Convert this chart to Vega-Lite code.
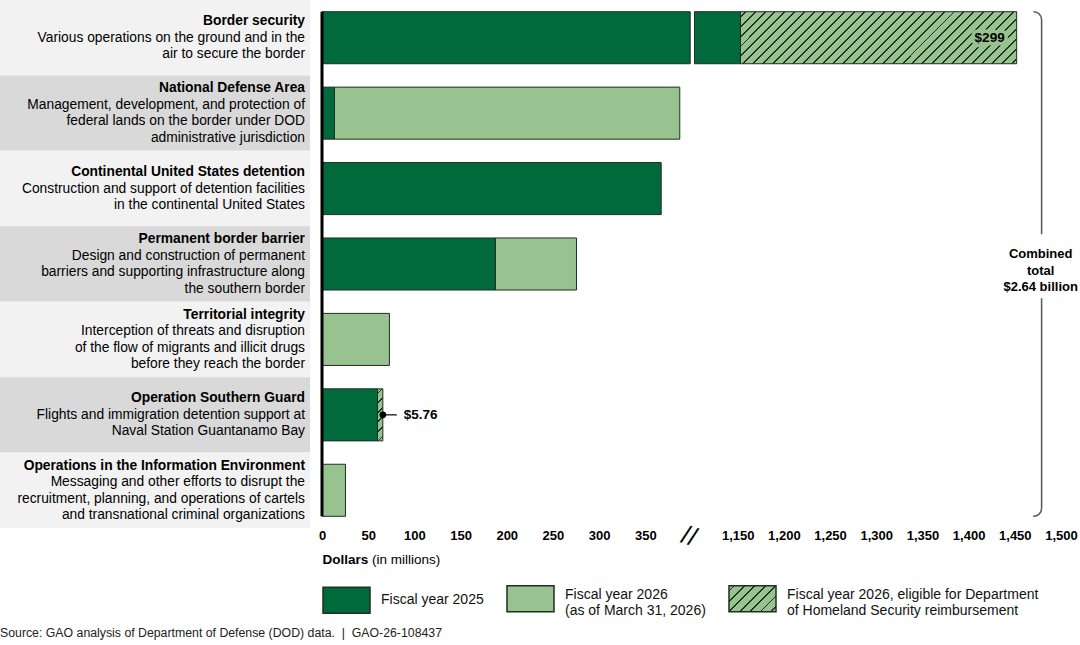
{
  "$schema": "https://vega.github.io/schema/vega-lite/v6.json",
  "padding": 0,
  "background": "white",
  "config": {"view": {"stroke": null}, "font": "Liberation Sans"},
  "title": {"text": "Source: GAO analysis of Department of Defense (DOD) data. \u00a0|\u00a0 GAO-26-108437", "orient": "bottom", "anchor": "start", "fontSize": 12.3, "fontWeight": "normal", "color": "#222", "offset": 9},
  "resolve": {"legend": {"fill": "independent"}},
  "datasets": {
    "cats": [
      {"row": 1, "cat": "Border security", "desc": ["Various operations on the ground and in the", "air to secure the border"]},
      {"row": 2, "cat": "National Defense Area", "desc": ["Management, development, and protection of", "federal lands on the border under DOD", "administrative jurisdiction"]},
      {"row": 3, "cat": "Continental United States detention", "desc": ["Construction and support of detention facilities", "in the continental United States"]},
      {"row": 4, "cat": "Permanent border barrier", "desc": ["Design and construction of permanent", "barriers and supporting infrastructure along", "the southern border"]},
      {"row": 5, "cat": "Territorial integrity", "desc": ["Interception of threats and disruption", "of the flow of migrants and illicit drugs", "before they reach the border"]},
      {"row": 6, "cat": "Operation Southern Guard", "desc": ["Flights and immigration detention support at", "Naval Station Guantanamo Bay"]},
      {"row": 7, "cat": "Operations in the Information Environment", "desc": ["Messaging and other efforts to disrupt the", "recruitment, planning, and operations of cartels", "and transnational criminal organizations"]}
    ],
    "bars": [
      {"cat": "Border security", "series": "FY2025", "value": 1153},
      {"cat": "Border security", "series": "FY2026DHS", "value": 299},
      {"cat": "National Defense Area", "series": "FY2025", "value": 13.5},
      {"cat": "National Defense Area", "series": "FY2026", "value": 373.8},
      {"cat": "Continental United States detention", "series": "FY2025", "value": 367.2},
      {"cat": "Permanent border barrier", "series": "FY2025", "value": 187.8},
      {"cat": "Permanent border barrier", "series": "FY2026", "value": 87.7},
      {"cat": "Territorial integrity", "series": "FY2026", "value": 73},
      {"cat": "Operation Southern Guard", "series": "FY2025", "value": 60.1},
      {"cat": "Operation Southern Guard", "series": "FY2026DHS", "value": 5.76},
      {"cat": "Operations in the Information Environment", "series": "FY2026", "value": 25.4}
    ]
  },
  "hconcat": [
    {
      "width": 310,
      "height": 528,
      "data": {"name": "cats"},
      "transform": [
        {"calculate": "length(datum.desc) == 3 ? [datum.cat, '', '', ''] : [datum.cat, '', '']", "as": "tl"},
        {"calculate": "length(datum.desc) == 3 ? ['', datum.desc[0], datum.desc[1], datum.desc[2]] : ['', datum.desc[0], datum.desc[1]]", "as": "dl"}
      ],
      "encoding": {
        "y": {"field": "cat", "type": "nominal", "scale": {"domain": ["Border security", "National Defense Area", "Continental United States detention", "Permanent border barrier", "Territorial integrity", "Operation Southern Guard", "Operations in the Information Environment"], "paddingInner": 0, "paddingOuter": 0}, "axis": null}
      },
      "layer": [
        {
          "mark": {"type": "rect"},
          "encoding": {
            "x": {"datum": 0, "type": "quantitative", "scale": {"domain": [0, 1]}, "axis": null},
            "x2": {"datum": 1},
            "fill": {"condition": {"test": "datum.row % 2 == 0", "value": "#d9d9d9"}, "value": "#f2f2f2"}
          }
        },
        {
          "mark": {"type": "text", "align": "right", "baseline": "middle", "dx": -5, "dy": {"expr": "length(datum.desc) == 3 ? -24.75 : -16.5"}, "fontSize": 13.8, "fontWeight": "bold", "lineHeight": 16.5, "color": "#000"},
          "encoding": {"x": {"datum": 1, "type": "quantitative"}, "text": {"field": "tl"}}
        },
        {
          "mark": {"type": "text", "align": "right", "baseline": "middle", "dx": -5, "dy": {"expr": "length(datum.desc) == 3 ? -24.75 : -16.5"}, "fontSize": 13.8, "fontWeight": "normal", "lineHeight": 16.5, "color": "#000"},
          "encoding": {"x": {"datum": 1, "type": "quantitative"}, "text": {"field": "dl"}}
        }
      ]
    },
    {
      "width": 739,
      "height": 528,
      "data": {"name": "bars"},
      "transform": [
        {"stack": "value", "groupby": ["cat"], "sort": [{"field": "series", "order": "ascending"}], "as": ["v0", "v1"]},
        {"calculate": "datum.v0 > 1100 ? datum.v0 - 700 : datum.v0", "as": "x0"},
        {"calculate": "datum.v1 > 1100 ? datum.v1 - 700 : datum.v1", "as": "x1"}
      ],
      "layer": [
        {
          "transform": [
            {"filter": "datum.series != 'FY2026DHS' && datum.v0 < 400"},
            {"calculate": "min(datum.x1, 398.6)", "as": "xe"}
          ],
          "mark": {"type": "bar", "stroke": "#1f2f22", "strokeWidth": 1},
          "encoding": {
            "x": {"field": "x0", "type": "quantitative", "scale": {"domain": [0, 800], "nice": false, "zero": true},
              "axis": {"values": [0, 50, 100, 150, 200, 250, 300, 350, 450, 500, 550, 600, 650, 700, 750, 800], "labelExpr": "datum.value > 400 ? format(datum.value + 700, ',') : format(datum.value, ',')", "labelFontWeight": "bold", "labelFontSize": 13, "labelColor": "#000", "ticks": false, "tickSize": 0, "domain": false, "grid": false, "labelPadding": 1, "labelFlush": false, "labelOverlap": false, "title": "Dollars", "titleFontWeight": "bold", "titleFontSize": 13.5, "titleColor": "#000", "titleAnchor": "start", "titlePadding": 10.5}},
            "x2": {"field": "xe"},
            "y": {"field": "cat", "type": "nominal", "scale": {"domain": ["Border security", "National Defense Area", "Continental United States detention", "Permanent border barrier", "Territorial integrity", "Operation Southern Guard", "Operations in the Information Environment"], "paddingInner": 0.31, "paddingOuter": 0.155}, "axis": null},
            "fill": {"field": "series", "type": "nominal",
              "scale": {"domain": ["FY2025", "FY2026", "FY2026DHS"], "range": ["#006a3d", "#98c28f",
                {"expr": "{gradient: 'linear', x1: 0, y1: 0, x2: 1.189, y2: 0.658, stops: [{offset: 0, color: '#98c28f'}, {offset: 0.0594, color: '#98c28f'}, {offset: 0.0594, color: '#1f2f22'}, {offset: 0.0834, color: '#1f2f22'}, {offset: 0.0834, color: '#98c28f'}, {offset: 0.2023, color: '#98c28f'}, {offset: 0.2023, color: '#1f2f22'}, {offset: 0.2263, color: '#1f2f22'}, {offset: 0.2263, color: '#98c28f'}, {offset: 0.3451, color: '#98c28f'}, {offset: 0.3451, color: '#1f2f22'}, {offset: 0.3691, color: '#1f2f22'}, {offset: 0.3691, color: '#98c28f'}, {offset: 0.488, color: '#98c28f'}, {offset: 0.488, color: '#1f2f22'}, {offset: 0.512, color: '#1f2f22'}, {offset: 0.512, color: '#98c28f'}, {offset: 0.6309, color: '#98c28f'}, {offset: 0.6309, color: '#1f2f22'}, {offset: 0.6549, color: '#1f2f22'}, {offset: 0.6549, color: '#98c28f'}, {offset: 0.7737, color: '#98c28f'}, {offset: 0.7737, color: '#1f2f22'}, {offset: 0.7977, color: '#1f2f22'}, {offset: 0.7977, color: '#98c28f'}, {offset: 0.9166, color: '#98c28f'}, {offset: 0.9166, color: '#1f2f22'}, {offset: 0.9406, color: '#1f2f22'}, {offset: 0.9406, color: '#98c28f'}, {offset: 1, color: '#98c28f'}]}"}
              ]},
              "legend": {
                "title": null, "orient": "bottom", "direction": "horizontal", "offset": 8,
                "symbolType": "M-1,-0.553H1V0.553H-1Z", "symbolSize": 2209,
                "labelFontSize": 14, "labelColor": "#111", "labelLimit": 400, "labelOffset": 10, "columnPadding": 20,
                "labelBaseline": {"expr": "datum.value == 'FY2025' ? 'middle' : 'alphabetic'"},
                "labelExpr": "datum.value == 'FY2025' ? 'Fiscal year 2025' : datum.value == 'FY2026' ? ['Fiscal year 2026', '(as of March 31, 2026)'] : ['Fiscal year 2026, eligible for Department', 'of Homeland Security reimbursement']",
                "encode": {
                  "symbols": {"stroke": {"value": "#1f2f22"}, "strokeWidth": {"value": 1}, "opacity": {"value": 1}}
                }
              }
            }
          }
        },
        {
          "transform": [
            {"filter": "datum.series != 'FY2026DHS' && datum.v1 > 1100"},
            {"calculate": "max(datum.x0, 403.2)", "as": "xs"}
          ],
          "mark": {"type": "bar", "stroke": "#1f2f22", "strokeWidth": 1},
          "encoding": {
            "x": {"field": "xs", "type": "quantitative"},
            "x2": {"field": "x1"},
            "y": {"field": "cat", "type": "nominal", "scale": {"domain": ["Border security", "National Defense Area", "Continental United States detention", "Permanent border barrier", "Territorial integrity", "Operation Southern Guard", "Operations in the Information Environment"], "paddingInner": 0.31, "paddingOuter": 0.155}, "axis": null},
            "fill": {"field": "series", "type": "nominal", "legend": null}
          }
        },
        {
          "transform": [{"filter": "datum.series == 'FY2026DHS' && datum.v1 > 1100"}],
          "mark": {"type": "bar", "stroke": "#1f2f22", "strokeWidth": 1,
            "fill": {"gradient": "linear", "x1": 0, "y1": 0, "x2": 1.1477, "y2": 0.2162, "stops": [
              {"offset": 0, "color": "#98c28f"},
              {"offset": 0.0122, "color": "#98c28f"}, {"offset": 0.0122, "color": "#1f2f22"}, {"offset": 0.0182, "color": "#1f2f22"}, {"offset": 0.0182, "color": "#98c28f"},
              {"offset": 0.0425, "color": "#98c28f"}, {"offset": 0.0425, "color": "#1f2f22"}, {"offset": 0.0485, "color": "#1f2f22"}, {"offset": 0.0485, "color": "#98c28f"},
              {"offset": 0.0728, "color": "#98c28f"}, {"offset": 0.0728, "color": "#1f2f22"}, {"offset": 0.0788, "color": "#1f2f22"}, {"offset": 0.0788, "color": "#98c28f"},
              {"offset": 0.1031, "color": "#98c28f"}, {"offset": 0.1031, "color": "#1f2f22"}, {"offset": 0.1091, "color": "#1f2f22"}, {"offset": 0.1091, "color": "#98c28f"},
              {"offset": 0.1334, "color": "#98c28f"}, {"offset": 0.1334, "color": "#1f2f22"}, {"offset": 0.1394, "color": "#1f2f22"}, {"offset": 0.1394, "color": "#98c28f"},
              {"offset": 0.1637, "color": "#98c28f"}, {"offset": 0.1637, "color": "#1f2f22"}, {"offset": 0.1697, "color": "#1f2f22"}, {"offset": 0.1697, "color": "#98c28f"},
              {"offset": 0.194, "color": "#98c28f"}, {"offset": 0.194, "color": "#1f2f22"}, {"offset": 0.2, "color": "#1f2f22"}, {"offset": 0.2, "color": "#98c28f"},
              {"offset": 0.2243, "color": "#98c28f"}, {"offset": 0.2243, "color": "#1f2f22"}, {"offset": 0.2303, "color": "#1f2f22"}, {"offset": 0.2303, "color": "#98c28f"},
              {"offset": 0.2546, "color": "#98c28f"}, {"offset": 0.2546, "color": "#1f2f22"}, {"offset": 0.2606, "color": "#1f2f22"}, {"offset": 0.2606, "color": "#98c28f"},
              {"offset": 0.2849, "color": "#98c28f"}, {"offset": 0.2849, "color": "#1f2f22"}, {"offset": 0.2909, "color": "#1f2f22"}, {"offset": 0.2909, "color": "#98c28f"},
              {"offset": 0.3152, "color": "#98c28f"}, {"offset": 0.3152, "color": "#1f2f22"}, {"offset": 0.3212, "color": "#1f2f22"}, {"offset": 0.3212, "color": "#98c28f"},
              {"offset": 0.3455, "color": "#98c28f"}, {"offset": 0.3455, "color": "#1f2f22"}, {"offset": 0.3515, "color": "#1f2f22"}, {"offset": 0.3515, "color": "#98c28f"},
              {"offset": 0.3758, "color": "#98c28f"}, {"offset": 0.3758, "color": "#1f2f22"}, {"offset": 0.3818, "color": "#1f2f22"}, {"offset": 0.3818, "color": "#98c28f"},
              {"offset": 0.4061, "color": "#98c28f"}, {"offset": 0.4061, "color": "#1f2f22"}, {"offset": 0.4121, "color": "#1f2f22"}, {"offset": 0.4121, "color": "#98c28f"},
              {"offset": 0.4364, "color": "#98c28f"}, {"offset": 0.4364, "color": "#1f2f22"}, {"offset": 0.4424, "color": "#1f2f22"}, {"offset": 0.4424, "color": "#98c28f"},
              {"offset": 0.4667, "color": "#98c28f"}, {"offset": 0.4667, "color": "#1f2f22"}, {"offset": 0.4727, "color": "#1f2f22"}, {"offset": 0.4727, "color": "#98c28f"},
              {"offset": 0.497, "color": "#98c28f"}, {"offset": 0.497, "color": "#1f2f22"}, {"offset": 0.503, "color": "#1f2f22"}, {"offset": 0.503, "color": "#98c28f"},
              {"offset": 0.5273, "color": "#98c28f"}, {"offset": 0.5273, "color": "#1f2f22"}, {"offset": 0.5333, "color": "#1f2f22"}, {"offset": 0.5333, "color": "#98c28f"},
              {"offset": 0.5576, "color": "#98c28f"}, {"offset": 0.5576, "color": "#1f2f22"}, {"offset": 0.5636, "color": "#1f2f22"}, {"offset": 0.5636, "color": "#98c28f"},
              {"offset": 0.5879, "color": "#98c28f"}, {"offset": 0.5879, "color": "#1f2f22"}, {"offset": 0.5939, "color": "#1f2f22"}, {"offset": 0.5939, "color": "#98c28f"},
              {"offset": 0.6182, "color": "#98c28f"}, {"offset": 0.6182, "color": "#1f2f22"}, {"offset": 0.6242, "color": "#1f2f22"}, {"offset": 0.6242, "color": "#98c28f"},
              {"offset": 0.6485, "color": "#98c28f"}, {"offset": 0.6485, "color": "#1f2f22"}, {"offset": 0.6545, "color": "#1f2f22"}, {"offset": 0.6545, "color": "#98c28f"},
              {"offset": 0.6788, "color": "#98c28f"}, {"offset": 0.6788, "color": "#1f2f22"}, {"offset": 0.6848, "color": "#1f2f22"}, {"offset": 0.6848, "color": "#98c28f"},
              {"offset": 0.7091, "color": "#98c28f"}, {"offset": 0.7091, "color": "#1f2f22"}, {"offset": 0.7151, "color": "#1f2f22"}, {"offset": 0.7151, "color": "#98c28f"},
              {"offset": 0.7394, "color": "#98c28f"}, {"offset": 0.7394, "color": "#1f2f22"}, {"offset": 0.7454, "color": "#1f2f22"}, {"offset": 0.7454, "color": "#98c28f"},
              {"offset": 0.7697, "color": "#98c28f"}, {"offset": 0.7697, "color": "#1f2f22"}, {"offset": 0.7757, "color": "#1f2f22"}, {"offset": 0.7757, "color": "#98c28f"},
              {"offset": 0.8, "color": "#98c28f"}, {"offset": 0.8, "color": "#1f2f22"}, {"offset": 0.806, "color": "#1f2f22"}, {"offset": 0.806, "color": "#98c28f"},
              {"offset": 0.8303, "color": "#98c28f"}, {"offset": 0.8303, "color": "#1f2f22"}, {"offset": 0.8363, "color": "#1f2f22"}, {"offset": 0.8363, "color": "#98c28f"},
              {"offset": 0.8606, "color": "#98c28f"}, {"offset": 0.8606, "color": "#1f2f22"}, {"offset": 0.8666, "color": "#1f2f22"}, {"offset": 0.8666, "color": "#98c28f"},
              {"offset": 0.8909, "color": "#98c28f"}, {"offset": 0.8909, "color": "#1f2f22"}, {"offset": 0.8969, "color": "#1f2f22"}, {"offset": 0.8969, "color": "#98c28f"},
              {"offset": 0.9212, "color": "#98c28f"}, {"offset": 0.9212, "color": "#1f2f22"}, {"offset": 0.9272, "color": "#1f2f22"}, {"offset": 0.9272, "color": "#98c28f"},
              {"offset": 0.9515, "color": "#98c28f"}, {"offset": 0.9515, "color": "#1f2f22"}, {"offset": 0.9575, "color": "#1f2f22"}, {"offset": 0.9575, "color": "#98c28f"},
              {"offset": 0.9818, "color": "#98c28f"}, {"offset": 0.9818, "color": "#1f2f22"}, {"offset": 0.9878, "color": "#1f2f22"}, {"offset": 0.9878, "color": "#98c28f"},
              {"offset": 1, "color": "#98c28f"}
            ]}},
          "encoding": {
            "x": {"field": "x0", "type": "quantitative"},
            "x2": {"field": "x1"},
            "y": {"field": "cat", "type": "nominal", "scale": {"domain": ["Border security", "National Defense Area", "Continental United States detention", "Permanent border barrier", "Territorial integrity", "Operation Southern Guard", "Operations in the Information Environment"], "paddingInner": 0.31, "paddingOuter": 0.155}, "axis": null}
          }
        },
        {
          "transform": [{"filter": "datum.series == 'FY2026DHS' && datum.v1 < 400"}],
          "mark": {"type": "bar", "stroke": "#1f2f22", "strokeWidth": 1,
            "fill": {"gradient": "linear", "x1": 0, "y1": 0, "x2": 0.1115, "y2": 1.0907, "stops": [
              {"offset": 0, "color": "#98c28f"},
              {"offset": 0.0683, "color": "#98c28f"}, {"offset": 0.0683, "color": "#1f2f22"}, {"offset": 0.0983, "color": "#1f2f22"}, {"offset": 0.0983, "color": "#98c28f"},
              {"offset": 0.235, "color": "#98c28f"}, {"offset": 0.235, "color": "#1f2f22"}, {"offset": 0.265, "color": "#1f2f22"}, {"offset": 0.265, "color": "#98c28f"},
              {"offset": 0.4017, "color": "#98c28f"}, {"offset": 0.4017, "color": "#1f2f22"}, {"offset": 0.4317, "color": "#1f2f22"}, {"offset": 0.4317, "color": "#98c28f"},
              {"offset": 0.5683, "color": "#98c28f"}, {"offset": 0.5683, "color": "#1f2f22"}, {"offset": 0.5983, "color": "#1f2f22"}, {"offset": 0.5983, "color": "#98c28f"},
              {"offset": 0.735, "color": "#98c28f"}, {"offset": 0.735, "color": "#1f2f22"}, {"offset": 0.765, "color": "#1f2f22"}, {"offset": 0.765, "color": "#98c28f"},
              {"offset": 0.9017, "color": "#98c28f"}, {"offset": 0.9017, "color": "#1f2f22"}, {"offset": 0.9317, "color": "#1f2f22"}, {"offset": 0.9317, "color": "#98c28f"},
              {"offset": 1, "color": "#98c28f"}
            ]}},
          "encoding": {
            "x": {"field": "x0", "type": "quantitative"},
            "x2": {"field": "x1"},
            "y": {"field": "cat", "type": "nominal", "scale": {"domain": ["Border security", "National Defense Area", "Continental United States detention", "Permanent border barrier", "Territorial integrity", "Operation Southern Guard", "Operations in the Information Environment"], "paddingInner": 0.31, "paddingOuter": 0.155}, "axis": null}
          }
        },
        {
          "transform": [{"filter": "datum.series == 'FY2026DHS' && datum.v1 > 1100"}],
          "mark": {"type": "text", "align": "right", "baseline": "middle", "dx": -12, "fontSize": 13.5, "fontWeight": "bold", "fill": "#98c28f", "stroke": "#98c28f", "strokeWidth": 7, "strokeJoin": "round"},
          "encoding": {
            "x": {"field": "x1", "type": "quantitative"},
            "y": {"field": "cat", "type": "nominal", "scale": {"domain": ["Border security", "National Defense Area", "Continental United States detention", "Permanent border barrier", "Territorial integrity", "Operation Southern Guard", "Operations in the Information Environment"], "paddingInner": 0.31, "paddingOuter": 0.155}, "axis": null},
            "text": {"field": "value", "type": "quantitative", "format": "$.0f"}
          }
        },
        {
          "transform": [{"filter": "datum.series == 'FY2026DHS' && datum.v1 > 1100"}],
          "mark": {"type": "text", "align": "right", "baseline": "middle", "dx": -12, "fontSize": 13.5, "fontWeight": "bold", "color": "#000"},
          "encoding": {
            "x": {"field": "x1", "type": "quantitative"},
            "y": {"field": "cat", "type": "nominal", "scale": {"domain": ["Border security", "National Defense Area", "Continental United States detention", "Permanent border barrier", "Territorial integrity", "Operation Southern Guard", "Operations in the Information Environment"], "paddingInner": 0.31, "paddingOuter": 0.155}, "axis": null},
            "text": {"field": "value", "type": "quantitative", "format": "$.0f"}
          }
        },
        {
          "transform": [{"filter": "datum.series == 'FY2026DHS' && datum.v1 < 400"}],
          "mark": {"type": "rule", "x2Offset": 14, "color": "#000", "strokeWidth": 1.2},
          "encoding": {
            "x": {"field": "x1", "type": "quantitative"},
            "x2": {"field": "x1"},
            "y": {"field": "cat", "type": "nominal", "scale": {"domain": ["Border security", "National Defense Area", "Continental United States detention", "Permanent border barrier", "Territorial integrity", "Operation Southern Guard", "Operations in the Information Environment"], "paddingInner": 0.31, "paddingOuter": 0.155}, "axis": null}
          }
        },
        {
          "transform": [{"filter": "datum.series == 'FY2026DHS' && datum.v1 < 400"}],
          "mark": {"type": "point", "filled": true, "size": 45, "color": "#000", "opacity": 1},
          "encoding": {
            "x": {"field": "x1", "type": "quantitative"},
            "y": {"field": "cat", "type": "nominal", "scale": {"domain": ["Border security", "National Defense Area", "Continental United States detention", "Permanent border barrier", "Territorial integrity", "Operation Southern Guard", "Operations in the Information Environment"], "paddingInner": 0.31, "paddingOuter": 0.155}, "axis": null}
          }
        },
        {
          "transform": [{"filter": "datum.series == 'FY2026DHS' && datum.v1 < 400"}],
          "mark": {"type": "text", "align": "left", "baseline": "middle", "dx": 21, "fontSize": 13.5, "fontWeight": "bold", "color": "#000"},
          "encoding": {
            "x": {"field": "x1", "type": "quantitative"},
            "y": {"field": "cat", "type": "nominal", "scale": {"domain": ["Border security", "National Defense Area", "Continental United States detention", "Permanent border barrier", "Territorial integrity", "Operation Southern Guard", "Operations in the Information Environment"], "paddingInner": 0.31, "paddingOuter": 0.155}, "axis": null},
            "text": {"field": "value", "type": "quantitative", "format": "$.2f"}
          }
        },
        {
          "data": {"values": [{}]},
          "mark": {"type": "rule", "color": "#000", "strokeWidth": 3},
          "encoding": {
            "x": {"datum": 0, "type": "quantitative"},
            "y": {"datum": "Border security", "type": "nominal", "bandPosition": 0, "scale": {"domain": ["Border security", "National Defense Area", "Continental United States detention", "Permanent border barrier", "Territorial integrity", "Operation Southern Guard", "Operations in the Information Environment"], "paddingInner": 0.31, "paddingOuter": 0.155}},
            "y2": {"datum": "Operations in the Information Environment", "bandPosition": 1}
          }
        },
        {
          "data": {"values": [{}]},
          "mark": {"type": "rect", "fill": null, "fillOpacity": 0, "stroke": "#555", "strokeWidth": 1.5, "cornerRadius": 8, "strokeDash": [227, 64, 223, 3000]},
          "encoding": {
            "x": {"datum": 761.6, "type": "quantitative"},
            "x2": {"datum": 779},
            "y": {"datum": "Border security", "type": "nominal", "bandPosition": 0, "scale": {"domain": ["Border security", "National Defense Area", "Continental United States detention", "Permanent border barrier", "Territorial integrity", "Operation Southern Guard", "Operations in the Information Environment"], "paddingInner": 0.31, "paddingOuter": 0.155}},
            "y2": {"datum": "Operations in the Information Environment", "bandPosition": 1}
          }
        },
        {
          "data": {"values": [{}]},
          "mark": {"type": "text", "text": ["Combined", "total", "$2.64 billion"], "align": "center", "baseline": "middle", "dy": -10, "fontSize": 13, "fontWeight": "bold", "lineHeight": 16.5, "color": "#000"},
          "encoding": {
            "x": {"datum": 778, "type": "quantitative"},
            "y": {"datum": "Permanent border barrier", "type": "nominal", "scale": {"domain": ["Border security", "National Defense Area", "Continental United States detention", "Permanent border barrier", "Territorial integrity", "Operation Southern Guard", "Operations in the Information Environment"], "paddingInner": 0.31, "paddingOuter": 0.155}}
          }
        },
        {
          "data": {"values": [{}]},
          "mark": {"type": "text", "text": "//", "y": "height", "dy": 9, "align": "center", "baseline": "middle", "fontSize": 26, "angle": 18, "color": "#000"},
          "encoding": {
            "x": {"datum": 400.5, "type": "quantitative"}
          }
        },
        {
          "data": {"values": [{}]},
          "mark": {"type": "text", "text": "(in millions)", "y": "height", "dx": 50, "dy": 24.6, "align": "left", "baseline": "top", "fontSize": 13.5, "color": "#000"},
          "encoding": {
            "x": {"datum": 0, "type": "quantitative"}
          }
        }
      ]
    }
  ],
  "spacing": 8
}
